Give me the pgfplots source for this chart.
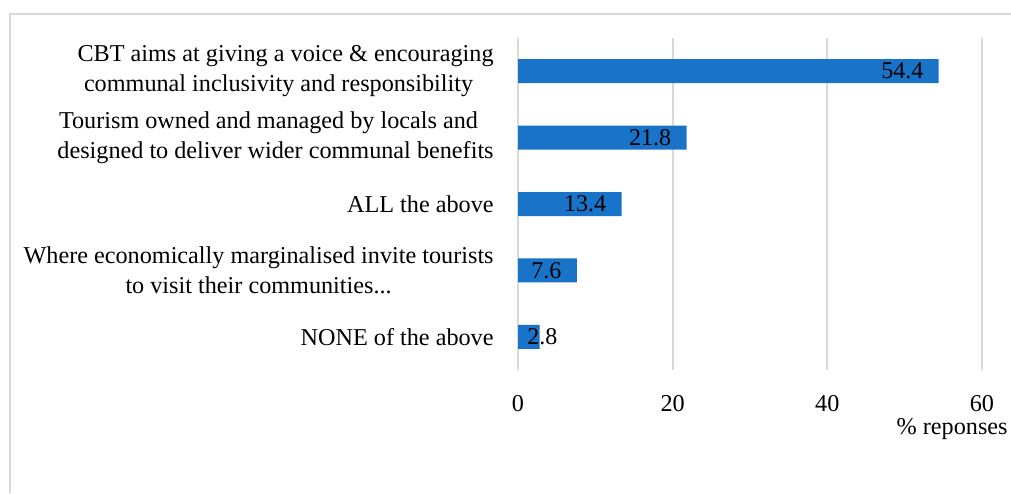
\documentclass[border=0pt]{standalone}
\usepackage{fontspec}
\setmainfont{Liberation Serif}
\usepackage{pgfplots}
\pgfplotsset{compat=1.18}
\definecolor{barblue}{RGB}{24,115,201}
\definecolor{gridgray}{RGB}{217,217,217}
\pgfplotstableread{
pos val shift
0 2.8 9
1 7.6 -7.5
2 13.4 -7.5
3 21.8 -7.5
4 54.4 -7.5
}\datatable
\begin{document}
\begin{tikzpicture}
\useasboundingbox (0,0) rectangle (505.5pt,246.5pt);
\draw[gridgray, line width=0.6pt] (5pt,0) -- (5pt,239.5pt) -- (505.5pt,239.5pt);
\begin{axis}[
  at={(259pt,61.5pt)}, anchor=south west,
  scale only axis, width=232pt, height=166pt,
  xbar, bar width=12pt,
  xmin=0, xmax=60, ymin=-0.5, ymax=4.5,
  xtick={0,20,40,60}, ytick={0,1,2,3,4},
  yticklabels={
    {NONE of the above},
    {Where economically marginalised invite tourists\\to visit their communities{.}{.}{.}},
    {ALL the above},
    {Tourism owned and managed by locals and\hspace*{7pt}\\designed to deliver wider communal benefits},
    {CBT aims at giving a voice \& encouraging\\communal inclusivity and responsibility\hspace*{7pt}}
  },
  axis line style={draw=none},
  major tick length=0pt,
  xmajorgrids, grid style={gridgray, line width=1pt},
  font=\fontsize{12.1}{15}\selectfont,
  /pgf/number format/assume math mode=true,
  xticklabel style={inner sep=0pt, yshift=-12.5pt},
  yticklabel style={align=center, inner sep=0pt, xshift=-12pt},
  xlabel={\% reponses},
  xlabel style={at={(rel axis cs:1,0)}, anchor=north east, inner sep=0pt, xshift=13pt, yshift=-24pt},
  point meta=explicit,
  nodes near coords,
  visualization depends on={\thisrow{shift} \as \labshift},
  nodes near coords style={anchor=east, inner sep=0pt, xshift=\labshift pt, font=\fontsize{12}{12}\selectfont},
]
\addplot[fill=barblue, draw=none] table[x=val, y=pos, meta=val] {\datatable};
\end{axis}
\end{tikzpicture}
\end{document}
